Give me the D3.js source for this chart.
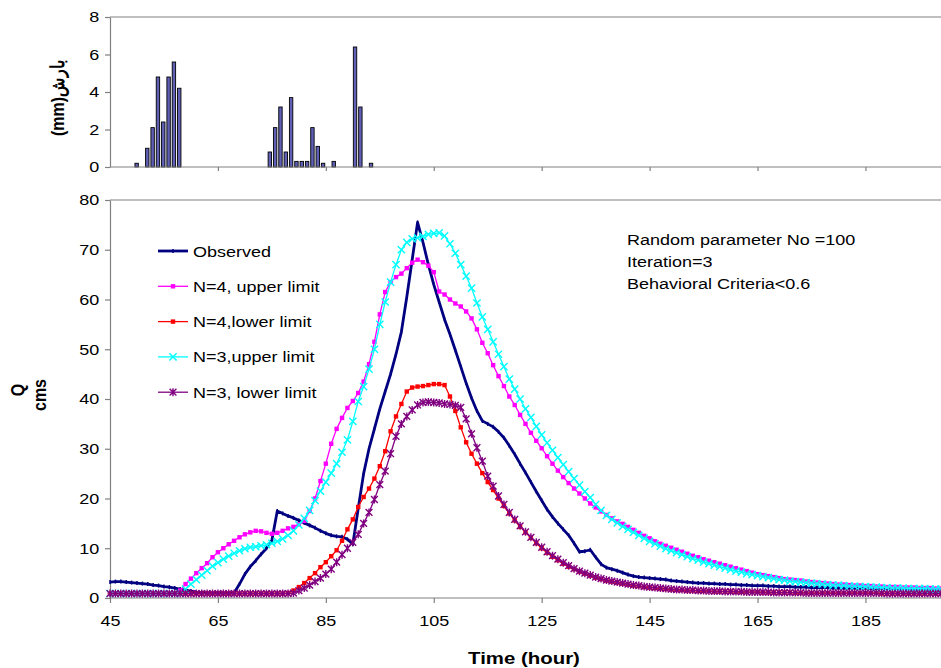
<!DOCTYPE html>
<html>
<head>
<meta charset="utf-8">
<script src="https://cdn.jsdelivr.net/npm/d3@7"></script>
<style>
  body { margin: 0; background: #fff; }
  svg { display: block; font-family: "Liberation Sans", Arial, sans-serif; }
</style>
</head>
<body>
<div id="chart"></div>
<script>
// hours on the x axis (one sample per hour)
var hours = d3.range(45, 200);

var observed = [
  3.2, 3.3, 3.3, 3.2, 3.1, 3.0, 2.9, 2.8, 2.6, 2.5,
  2.3, 2.2, 2.0, 1.8, 1.6, 1.4, 1.2, 1.1, 1.0, 1.0,
  1.0, 1.0, 1.0, 1.0, 2.8, 4.8, 6.3, 7.5, 8.8, 10.0,
  11.6, 17.5, 17.0, 16.5, 16.1, 15.6, 15.1, 14.6, 14.1, 13.5,
  13.0, 12.6, 12.4, 12.3, 11.8, 10.8, 18.0, 25.0, 30.0, 34.0,
  38.0, 41.5, 45.0, 49.0, 53.5, 60.5, 68.0, 75.5, 71.5, 67.0,
  63.0, 59.5, 56.0, 53.0, 49.8, 46.5, 43.2, 40.2, 37.6, 35.6,
  35.0, 34.4, 33.4, 32.2, 30.6, 28.9, 27.0, 25.2, 23.3, 21.4,
  19.6, 17.8, 16.3, 15.0, 13.8, 12.6, 11.0, 9.3, 9.4, 9.7,
  8.2, 6.8, 6.1, 5.8, 5.5, 5.1, 4.7, 4.4, 4.2, 4.1,
  4.0, 3.9, 3.8, 3.7, 3.5, 3.4, 3.3, 3.2, 3.1, 3.0,
  3.0, 2.9, 2.9, 2.8, 2.8, 2.7, 2.7, 2.6, 2.6, 2.5,
  2.5, 2.5, 2.4, 2.4, 2.3, 2.3, 2.3, 2.2, 2.2, 2.2,
  2.1, 2.1, 2.1, 2.1, 2.0, 2.0, 2.0, 2.0, 2.0, 2.0,
  2.0, 1.9, 1.9, 1.9, 1.9, 1.9, 1.9, 1.9, 1.9, 1.9,
  1.9, 1.9, 1.8, 1.8, 1.8
];

var n4Upper = [
  0.9, 0.9, 0.9, 0.9, 0.9, 0.9, 0.9, 0.9, 0.9, 0.9,
  0.9, 0.9, 0.9, 1.5, 2.8, 3.9, 5.0, 6.0, 7.0, 8.2,
  9.2, 10.0, 10.8, 11.5, 12.2, 12.8, 13.2, 13.5, 13.4, 13.1,
  12.9, 13.1, 13.5, 14.0, 14.3, 14.8, 15.5, 17.5, 20.0, 23.5,
  27.0, 31.0, 34.0, 36.2, 38.2, 39.6, 41.2, 43.5, 47.0, 51.5,
  57.0, 61.5, 63.5, 64.5, 65.2, 66.3, 67.4, 68.0, 67.5, 66.8,
  65.5, 61.6, 61.0, 60.0, 59.2, 58.6, 57.6, 56.2, 54.0, 51.3,
  49.2, 46.8, 44.6, 42.6, 40.5, 38.8, 36.8, 35.0, 33.2, 31.6,
  30.1, 28.5, 27.0, 25.6, 24.3, 23.1, 22.0, 21.0, 20.0, 19.0,
  18.2, 17.4, 16.7, 16.0, 15.4, 14.9, 14.3, 13.7, 13.1, 12.5,
  12.0, 11.4, 10.9, 10.5, 10.1, 9.7, 9.3, 8.9, 8.5, 8.2,
  7.8, 7.5, 7.2, 6.9, 6.6, 6.3, 6.0, 5.7, 5.4, 5.1,
  4.8, 4.6, 4.4, 4.2, 4.0, 3.8, 3.7, 3.6, 3.5, 3.3,
  3.2, 3.1, 3.0, 2.9, 2.8, 2.7, 2.7, 2.6, 2.5, 2.5,
  2.4, 2.4, 2.3, 2.3, 2.2, 2.2, 2.2, 2.1, 2.1, 2.1,
  2.0, 2.0, 2.0, 1.9, 1.9
];

var n4Lower = [
  0.9, 0.9, 0.9, 0.9, 0.9, 0.9, 0.9, 0.9, 0.9, 0.9,
  0.9, 0.9, 0.9, 0.9, 0.9, 0.9, 0.9, 0.9, 0.9, 0.9,
  0.9, 0.9, 0.9, 0.9, 0.9, 0.9, 0.9, 0.9, 0.9, 0.9,
  0.9, 0.9, 0.9, 1.0, 1.5, 2.2, 3.0, 4.0, 5.0, 6.2,
  7.2, 8.4, 9.6, 11.5, 13.8, 15.8, 18.3, 20.3, 22.0, 24.0,
  26.5, 29.5, 33.5, 36.5, 39.0, 41.5, 42.3, 42.5, 42.6, 42.8,
  43.0, 43.0, 42.8, 40.5, 37.6, 34.3, 31.3, 29.0, 27.0, 25.1,
  23.3, 21.7, 20.0, 18.5, 17.0, 15.6, 14.3, 13.2, 12.1, 11.0,
  10.0, 9.1, 8.3, 7.6, 6.9, 6.3, 5.8, 5.3, 4.9, 4.5,
  4.1, 3.8, 3.5, 3.3, 3.1, 2.9, 2.7, 2.5, 2.4, 2.2,
  2.1, 2.0, 1.9, 1.8, 1.7, 1.6, 1.6, 1.5, 1.5, 1.4,
  1.4, 1.4, 1.3, 1.3, 1.3, 1.3, 1.2, 1.2, 1.2, 1.2,
  1.2, 1.1, 1.1, 1.1, 1.1, 1.1, 1.1, 1.0, 1.0, 1.0,
  1.0, 1.0, 1.0, 1.0, 1.0, 1.0, 1.0, 1.0, 1.0, 1.0,
  1.0, 1.0, 1.0, 0.9, 0.9, 0.9, 0.9, 0.9, 0.9, 0.9,
  0.9, 0.9, 0.9, 0.9, 0.9
];

var n3Upper = [
  0.9, 0.9, 0.9, 0.9, 0.9, 0.9, 0.9, 0.9, 0.9, 0.9,
  0.9, 0.9, 0.9, 0.9, 1.8, 2.8, 3.7, 4.6, 5.5, 6.4,
  7.1, 7.8, 8.4, 9.0, 9.5, 9.9, 10.2, 10.3, 10.5, 10.7,
  11.0, 11.4, 11.9, 12.6, 13.5, 14.7, 16.0, 17.6, 19.6, 21.5,
  23.3, 25.1, 27.0, 29.3, 31.8, 35.5, 39.5, 42.5, 46.0, 50.0,
  55.0, 59.5, 63.5, 67.0, 70.0, 71.5, 72.2, 72.4, 72.7, 73.1,
  73.3, 73.4, 72.8, 71.2, 69.3, 67.0, 64.7, 62.3, 59.3, 56.5,
  54.0, 51.5, 49.0, 46.5, 44.0, 42.0, 40.0, 38.0, 36.3, 34.5,
  32.8, 31.2, 29.7, 28.2, 26.8, 25.4, 24.0, 22.7, 21.4, 20.2,
  18.8, 17.6, 16.6, 15.8, 15.1, 14.4, 13.8, 13.2, 12.6, 12.0,
  11.4, 10.9, 10.4, 9.9, 9.5, 9.1, 8.7, 8.3, 7.9, 7.6,
  7.2, 6.9, 6.6, 6.3, 6.0, 5.7, 5.4, 5.2, 4.9, 4.7,
  4.5, 4.3, 4.1, 3.9, 3.7, 3.6, 3.4, 3.3, 3.2, 3.1,
  3.0, 2.9, 2.8, 2.7, 2.6, 2.6, 2.5, 2.4, 2.4, 2.3,
  2.3, 2.2, 2.2, 2.1, 2.1, 2.0, 2.0, 2.0, 1.9, 1.9,
  1.9, 1.9, 1.8, 1.8, 1.8
];

var n3Lower = [
  0.9, 0.9, 0.9, 0.9, 0.9, 0.9, 0.9, 0.9, 0.9, 0.9,
  0.9, 0.9, 0.9, 0.9, 0.9, 0.9, 0.9, 0.9, 0.9, 0.9,
  0.9, 0.9, 0.9, 0.9, 0.9, 0.9, 0.9, 0.9, 0.9, 0.9,
  0.9, 0.9, 0.9, 0.9, 1.0, 1.5, 2.0, 2.6, 3.3, 4.0,
  4.8, 5.8, 7.2, 8.7, 10.0, 11.2, 12.8, 15.0, 17.2, 19.8,
  22.8, 25.5, 29.0, 32.5, 35.0, 36.5, 37.8, 38.8, 39.3, 39.4,
  39.3, 39.2, 39.0, 38.9, 38.7, 38.3, 36.0, 33.0, 30.2, 27.5,
  24.5, 22.5, 20.5, 18.8, 17.2, 15.8, 14.5, 13.3, 12.2, 11.2,
  10.2, 9.3, 8.5, 7.8, 7.1, 6.5, 5.9, 5.4, 5.0, 4.6,
  4.2, 3.9, 3.6, 3.4, 3.2, 3.0, 2.8, 2.6, 2.5, 2.3,
  2.2, 2.1, 2.0, 1.9, 1.8, 1.7, 1.7, 1.6, 1.6, 1.5,
  1.5, 1.4, 1.4, 1.4, 1.3, 1.3, 1.3, 1.3, 1.2, 1.2,
  1.2, 1.2, 1.2, 1.1, 1.1, 1.1, 1.1, 1.1, 1.1, 1.0,
  1.0, 1.0, 1.0, 1.0, 1.0, 1.0, 1.0, 1.0, 1.0, 1.0,
  1.0, 1.0, 1.0, 1.0, 0.9, 0.9, 0.9, 0.9, 0.9, 0.9,
  0.9, 0.9, 0.9, 0.9, 0.9
];

// rainfall (mm) per hour
var rainHours = [50, 52, 53, 54, 55, 56, 57, 58, 75, 76, 77, 78, 79, 80, 81, 82, 83, 84, 85, 87, 91, 92, 94];
var rainMm    = [0.2, 1.0, 2.1, 4.8, 2.4, 4.8, 5.6, 4.2, 0.8, 2.1, 3.2, 0.8, 3.7, 0.3, 0.3, 0.3, 2.1, 1.1, 0.2, 0.3, 6.4, 3.2, 0.2];

var xTicks = [45, 65, 85, 105, 125, 145, 165, 185];
var qTicks = [0, 10, 20, 30, 40, 50, 60, 70, 80];
var rainTicks = [0, 2, 4, 6, 8];

var seriesNames = ["Observed", "N=4, upper limit", "N=4,lower limit", "N=3,upper limit", "N=3, lower limit"];
var seriesColors = ["#000080", "#ff00ff", "#ff0000", "#00ffff", "#800080"];
var seriesMarks = ["tick", "square", "square", "x", "star"];
var annotation = ["Random parameter No =100", "Iteration=3", "Behavioral Criteria<0.6"];

var seriesValues = [observed, n4Upper, n4Lower, n3Upper, n3Lower];

var W = 941, H = 668;
var left = 110, right = 941;
var SX = 1.2; // the picture is stretched sideways a bit
var FONT = 15;

var svg = d3.select("#chart").append("svg").attr("width", W).attr("height", H);

var x = d3.scaleLinear().domain([45, 199]).range([left, right]);
var xRain = d3.scaleLinear().domain([45, 201]).range([left, right]);
var y = d3.scaleLinear().domain([0, 80]).range([598, 200]);
var yRain = d3.scaleLinear().domain([0, 8]).range([167, 17]);

function label(g, px, py, txt, opts) {
  opts = opts || {};
  var t = g.append("text")
    .attr("transform", "translate(" + px + "," + py + ") scale(" + SX + ",1)" + (opts.rotate ? " rotate(" + opts.rotate + ")" : ""))
    .attr("font-size", (opts.size || FONT) + "px")
    .attr("text-anchor", opts.anchor || "start")
    .attr("fill", "#000")
    .text(txt);
  if (opts.bold) t.attr("font-weight", "bold");
  return t;
}

function styleAxis(g) {
  g.selectAll(".domain").attr("stroke", "#808080").attr("stroke-width", 1.2);
  g.selectAll(".tick line").attr("stroke", "#808080").attr("stroke-width", 1.2);
  g.selectAll("text").attr("font-size", FONT + "px").attr("font-family", null).attr("fill", "#000")
    .attr("transform", "scale(" + SX + ",1)");
}

// ---------- rainfall panel ----------
var rainPanel = svg.append("g");
rainPanel.append("line").attr("x1", left).attr("x2", right).attr("y1", yRain(8)).attr("y2", yRain(8))
  .attr("stroke", "#808080").attr("stroke-width", 1.2);

rainPanel.selectAll("rect.bar")
  .data(rainHours)
  .enter().append("rect")
  .attr("class", "bar")
  .attr("x", function(d) { return xRain(d) - 1.7; })
  .attr("width", 3.4)
  .attr("y", function(d, i) { return yRain(rainMm[i]); })
  .attr("height", function(d, i) { return yRain(0) - yRain(rainMm[i]); })
  .attr("fill", "#5f5fb5")
  .attr("stroke", "#000")
  .attr("stroke-width", 0.9);

var ra = rainPanel.append("g").attr("transform", "translate(" + left + ",0)")
  .call(d3.axisLeft(yRain).tickValues(rainTicks).tickSize(5).tickSizeOuter(0).tickPadding(4));
styleAxis(ra);
var rb = rainPanel.append("g").attr("transform", "translate(0," + yRain(0) + ")")
  .call(d3.axisBottom(x).tickValues(xTicks.slice(1)).tickFormat("").tickSize(4).tickSizeOuter(0));
rb.select(".domain").attr("d", "M" + left + ",0H" + right);
styleAxis(rb);

label(rainPanel, 64, 98, "(mm)بارش", { rotate: -90, anchor: "middle", bold: true, size: 16 });

// ---------- discharge panel ----------
var main = svg.append("g");
main.append("line").attr("x1", left).attr("x2", right).attr("y1", y(80)).attr("y2", y(80))
  .attr("stroke", "#808080").attr("stroke-width", 1.2);

var ya = main.append("g").attr("transform", "translate(" + left + ",0)")
  .call(d3.axisLeft(y).tickValues(qTicks).tickSize(5).tickSizeOuter(0).tickPadding(4));
styleAxis(ya);
var xa = main.append("g").attr("transform", "translate(0," + y(0) + ")")
  .call(d3.axisBottom(x).tickValues(xTicks).tickSize(5).tickSizeOuter(0).tickPadding(12));
xa.select(".domain").attr("d", "M" + left + ",0H" + right);
styleAxis(xa);

label(main, 524, 664, "Time (hour)", { anchor: "middle", bold: true, size: 17 });
label(main, 24, 390, "Q", { rotate: -90, anchor: "middle", bold: true, size: 16 });
label(main, 46, 395, "cms", { rotate: -90, anchor: "middle", bold: true, size: 16 });

function drawMark(g, kind, color) {
  if (kind === "square") {
    g.append("rect").attr("x", -2.2).attr("y", -2.2).attr("width", 4.4).attr("height", 4.4).attr("fill", color);
  } else if (kind === "x") {
    g.append("path").attr("d", "M-3.6,-3.6L3.6,3.6M-3.6,3.6L3.6,-3.6").attr("stroke", color).attr("stroke-width", 1.4).attr("fill", "none");
  } else if (kind === "star") {
    g.append("path").attr("d", "M-3.4,-3.4L3.4,3.4M-3.4,3.4L3.4,-3.4M0,-4L0,4").attr("stroke", color).attr("stroke-width", 1.4).attr("fill", "none");
  } else {
    g.append("path").attr("d", "M0,-2L0,2").attr("stroke", color).attr("stroke-width", 1.5);
  }
}

var line = d3.line()
  .x(function(d, i) { return x(hours[i]); })
  .y(function(d) { return y(d); });

seriesValues.forEach(function(vals, s) {
  var g = main.append("g");
  g.append("path")
    .datum(vals)
    .attr("d", line)
    .attr("fill", "none")
    .attr("stroke", seriesColors[s])
    .attr("stroke-width", s === 0 ? 2.8 : 1.3)
    .attr("stroke-linejoin", "round");
  g.selectAll("g.m")
    .data(vals)
    .enter().append("g")
    .attr("class", "m")
    .attr("transform", function(d, i) { return "translate(" + x(hours[i]) + "," + y(d) + ")"; })
    .each(function() { drawMark(d3.select(this), seriesMarks[s], seriesColors[s]); });
});

// legend
var legend = main.append("g");
seriesNames.forEach(function(name, i) {
  var cy = 251 + i * 35.3;
  legend.append("line").attr("x1", 158).attr("x2", 188).attr("y1", cy).attr("y2", cy)
    .attr("stroke", seriesColors[i]).attr("stroke-width", i === 0 ? 2.8 : 1.3);
  drawMark(legend.append("g").attr("transform", "translate(173," + cy + ")"), seriesMarks[i], seriesColors[i]);
  label(legend, 193, cy + 5.5, name);
});

annotation.forEach(function(t, i) {
  label(main, 627, 245 + i * 22, t);
});
</script>
</body>
</html>
